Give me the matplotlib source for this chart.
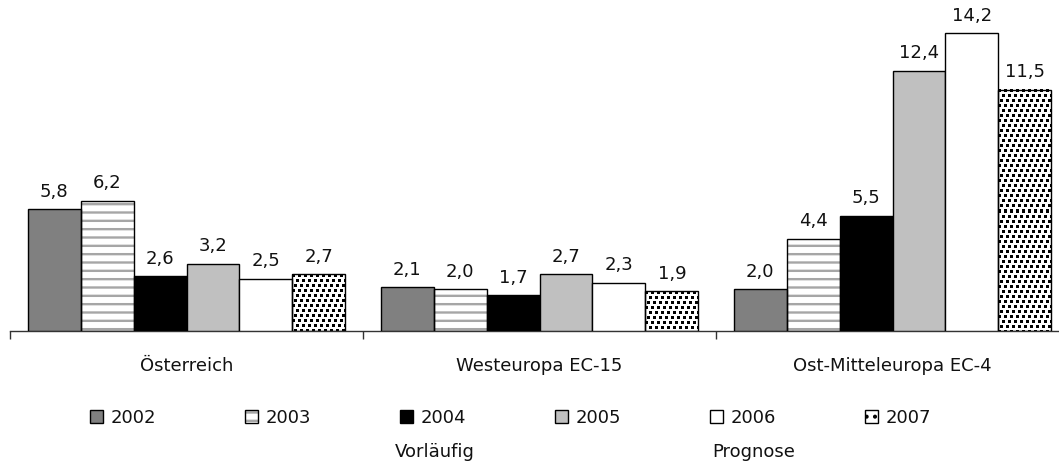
import matplotlib
matplotlib.use("Agg")
import matplotlib.pyplot as plt
from matplotlib.patches import Patch
from matplotlib.legend_handler import HandlerTuple
import numpy as np

# ---- data -------------------------------------------------------------
regions = ["Österreich", "Westeuropa EC-15", "Ost-Mitteleuropa EC-4"]
years = ["2002", "2003", "2004", "2005", "2006", "2007"]
v2002 = [5.8, 2.1, 2.0]
v2003 = [6.2, 2.0, 4.4]
v2004 = [2.6, 1.7, 5.5]
v2005 = [3.2, 2.7, 12.4]
v2006 = [2.5, 2.3, 14.2]
v2007 = [2.7, 1.9, 11.5]
notes = ["Vorläufig", "Prognose"]

series = [v2002, v2003, v2004, v2005, v2006, v2007]

# ---- styles -------------------------------------------------------------
# (face colour, fill kind, hatch colour)
styles = [
    ("#808080", None, None),
    ("white", "stripes", "#a6a6a6"),
    ("black", None, None),
    ("#c0c0c0", None, None),
    ("white", None, None),
    ("white", "confetti", "black"),
]

plt.rcParams["font.family"] = ["DejaVu Sans"]
plt.rcParams["hatch.linewidth"] = 1.7
FS = 13

W, H = 1059, 463
fig = plt.figure(figsize=(W / 100, H / 100), dpi=100)
fig.patch.set_facecolor("white")

# axes: baseline at y=331 px, category pitch 353 px starting at x=10 px
ax = fig.add_axes([10 / W, (H - 331) / H, 3 * 353 / W, 325 / H])
XLIM = (-0.5, 2.5)
YLIM = (0, 15.48)
ax.set_xlim(*XLIM)
ax.set_ylim(*YLIM)


def confetti(h, w):
    """Staggered grid of small black squares on white, one cell per pixel."""
    yy, xx = np.mgrid[0:h, 0:w]
    shift = ((yy // 5) * 2) % 6
    ink = ((yy % 5) < 3) & (((xx + shift) % 6) < 3)
    return np.where(ink, 0.0, 1.0)


x = np.arange(len(regions))
bw = 0.15
legend_handles = []
for i, (vals, (fc, kind, hc)) in enumerate(zip(series, styles)):
    pos = x + (i - 2.5) * bw
    if kind == "stripes":
        ax.bar(pos, vals, bw, color=fc, edgecolor=hc, hatch="--",
               linewidth=0, zorder=2)
        h = (Patch(facecolor=fc, edgecolor=hc, hatch="--", linewidth=0),
             Patch(facecolor="none", edgecolor="black", linewidth=1.0))
    elif kind == "confetti":
        for p, v in zip(pos, vals):
            (px0, py0), (px1, py1) = ax.transData.transform(
                [(p - bw / 2, 0), (p + bw / 2, v)])
            img = confetti(int(round(abs(py1 - py0))),
                           int(round(abs(px1 - px0))))
            ax.imshow(img, extent=[p - bw / 2, p + bw / 2, 0, v],
                      origin="upper", aspect="auto", cmap="gray",
                      vmin=0, vmax=1, interpolation="nearest", zorder=2)
        h = Patch(facecolor=fc, edgecolor="black", hatch="..", linewidth=1.0)
    if kind is None:
        bars = ax.bar(pos, vals, bw, color=fc, edgecolor="black",
                      linewidth=1.0, zorder=3)
        h = Patch(facecolor=fc, edgecolor="black", linewidth=1.0)
    else:
        bars = ax.bar(pos, vals, bw, fill=False, edgecolor="black",
                      linewidth=1.0, zorder=3)
    legend_handles.append(h)
    ax.bar_label(bars, labels=[f"{v:.1f}".replace(".", ",") for v in vals],
                 padding=6, fontsize=FS, color="#111111")

ax.set_xlim(*XLIM)
ax.set_ylim(*YLIM)

for s in ("top", "left", "right"):
    ax.spines[s].set_visible(False)
ax.spines["bottom"].set_color("#333333")
ax.spines["bottom"].set_linewidth(1.0)
ax.set_yticks([])

# category labels on major ticks, boundary marks on minor ticks
ax.set_xticks(x)
ax.set_xticklabels(regions, fontsize=FS, color="#111111")
ax.tick_params(axis="x", which="major", length=0, pad=19)
ax.set_xticks([-0.5, 0.5, 1.5, 2.5], minor=True)
ax.tick_params(axis="x", which="minor", length=6, width=1.0,
               color="#333333", direction="out")

leg = fig.legend(
    legend_handles, years,
    loc="center left", bbox_to_anchor=(90 / W, 1 - 418 / H),
    ncol=6, frameon=False, fontsize=FS,
    handlelength=0.72, handleheight=0.72, handletextpad=0.4,
    columnspacing=4.95, borderpad=0, borderaxespad=0,
    handler_map={tuple: HandlerTuple(ndivide=1, pad=0)},
)
for t in leg.get_texts():
    t.set_color("#111111")

fig.text(395 / W, 1 - 452 / H, notes[0], fontsize=FS, va="center",
         ha="left", color="#111111")
fig.text(712 / W, 1 - 452 / H, notes[1], fontsize=FS, va="center",
         ha="left", color="#111111")

fig.savefig("out.png", dpi=100, facecolor="white")
